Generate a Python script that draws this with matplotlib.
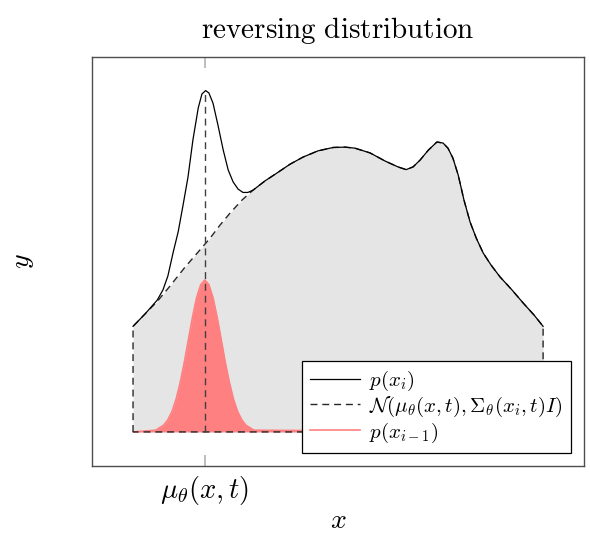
import matplotlib
matplotlib.use("Agg")
import matplotlib.pyplot as plt
import numpy as np

# gaussian approximation N(mu, sigma) - the grey shape with dashed outline
dash_x = [0.00, 0.29, 0.59, 0.90, 1.27, 1.63, 1.88, 2.12, 2.37, 2.66, 2.93, 3.22, 3.51,
          3.83, 4.15, 4.51, 4.88, 5.17, 5.41, 5.78, 6.15, 6.46, 6.66, 6.83, 7.00, 7.20,
          7.41, 7.56, 7.68, 7.80, 7.93, 8.07, 8.22, 8.37, 8.54, 8.73, 8.95, 9.24, 9.51,
          9.78, 10.00]
dash_y = [0.310, 0.346, 0.383, 0.428, 0.484, 0.534, 0.569, 0.607, 0.643, 0.681, 0.710,
          0.737, 0.760, 0.786, 0.807, 0.825, 0.835, 0.836, 0.833, 0.819, 0.795, 0.778,
          0.770, 0.778, 0.798, 0.827, 0.851, 0.848, 0.833, 0.804, 0.754, 0.681, 0.616,
          0.569, 0.525, 0.490, 0.455, 0.417, 0.379, 0.343, 0.310]

# p(x_i) - same as above except the peak near mu
solid_x = [0.00, 0.29, 0.59, 0.73, 0.85, 0.98, 1.10, 1.22, 1.34, 1.46, 1.59, 1.68, 1.77,
           1.85, 1.95, 2.07, 2.20, 2.32, 2.44, 2.56, 2.68, 2.80, 2.93] + dash_x[11:]
solid_y = [0.310, 0.346, 0.387, 0.417, 0.458, 0.528, 0.587, 0.666, 0.748, 0.857, 0.951,
           0.992, 1.002, 0.995, 0.965, 0.901, 0.827, 0.769, 0.734, 0.713, 0.703, 0.703,
           0.710] + dash_y[11:]

# p(x_{i-1})
red_x = [0.00, 0.55, 0.75, 0.85, 0.95, 1.05, 1.15, 1.25, 1.35, 1.45, 1.55, 1.65, 1.75,
         1.85, 1.95, 2.05, 2.15, 2.25, 2.35, 2.45, 2.55, 2.65, 2.75, 2.95, 10.00]
red_y = [0.000, 0.005, 0.020, 0.036, 0.060, 0.096, 0.145, 0.204, 0.271, 0.337, 0.394,
         0.432, 0.446, 0.432, 0.394, 0.337, 0.271, 0.204, 0.145, 0.096, 0.060, 0.036,
         0.020, 0.005, 0.000]

mu = 1.75
p_mu = 1.002

plt.rcParams['mathtext.fontset'] = 'cm'
plt.rcParams['font.family'] = 'serif'

fig = plt.figure(figsize=(5.9, 5.33), dpi=100)
ax = fig.add_axes([0.156, 0.1257, 0.834, 0.767])

ax.fill_between(dash_x, 0, dash_y, color='#e5e5e5', lw=0, zorder=1)
ax.fill_between(red_x, 0, red_y, color='#ff8080', lw=0, zorder=2)
ax.plot(red_x, red_y, color='#ff8080', lw=1.2, zorder=3, label=r'$p(x_{i-1})$')

outline_x = [0.0] + dash_x + [10.0, 0.0]
outline_y = [0.0] + dash_y + [0.0, 0.0]
ax.plot(outline_x, outline_y, color='0.15', lw=1, dashes=(5, 3.5), zorder=4,
        label=r'$\mathcal{N}(\mu_\theta(x,t),\Sigma_\theta(x_i,t)I)$')
ax.plot(solid_x, solid_y, color='k', lw=0.9, zorder=5, label=r'$p(x_i)$')
ax.plot([mu, mu], [0, p_mu], color='0.25', lw=1, dashes=(5, 3.5), zorder=6)

ax.set_xlim(-1, 11)
ax.set_ylim(-0.1, 1.1)
ax.set_yticks([])
ax.set_xticks([mu])
ax.set_xticklabels([r'$\mu_\theta(x,t)$'], fontsize=20.5)
ax.tick_params(axis='x', direction='in', length=8, width=1.2, color='0.7',
               top=True, pad=6)
for s in ax.spines.values():
    s.set_color('0.3')
    s.set_linewidth(1)

ax.set_xlabel(r'$x$', fontsize=20, labelpad=0)
ax.set_ylabel(r'$y$', fontsize=20, labelpad=40)
ax.set_title(r'$\mathrm{reversing\ distribution}$', fontsize=21, pad=14)

h, l = ax.get_legend_handles_labels()
leg = ax.legend([h[2], h[1], h[0]], [l[2], l[1], l[0]], loc='lower right',
                bbox_to_anchor=(0.974, 0.032), borderaxespad=0, fontsize=15,
                fancybox=False, framealpha=1, edgecolor='k', handlelength=2.4,
                handletextpad=0.45, labelspacing=0.08, borderpad=0.4)
leg.get_frame().set_linewidth(0.9)

fig.savefig('out.png', dpi=100)
